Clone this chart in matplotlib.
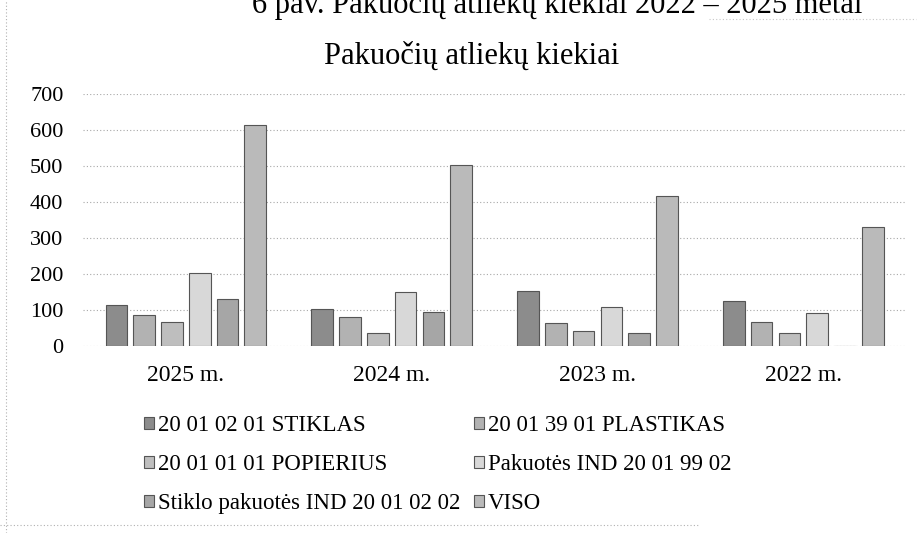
import numpy as np
import matplotlib.pyplot as plt
from matplotlib.lines import Line2D

plt.rcParams['font.family'] = ['Liberation Serif', 'DejaVu Serif']

# Data
years = ['2025 m.', '2024 m.', '2023 m.', '2022 m.']
series_names = ['20 01 02 01 STIKLAS', '20 01 39 01 PLASTIKAS', '20 01 01 01 POPIERIUS',
                'Pakuotės IND 20 01 99 02', 'Stiklo pakuotės IND 20 01 02 02', 'VISO']
stiklas = [114, 103, 152, 124]
plastikas = [86, 80, 64, 67]
popierius = [66, 35, 42, 36]
pakuotes_ind = [203, 151, 108, 92]
stiklo_pakuotes = [129, 94, 36, 0]
viso = [613, 503, 416, 330]
yticks = [0, 100, 200, 300, 400, 500, 600, 700]

series = [stiklas, plastikas, popierius, pakuotes_ind, stiklo_pakuotes, viso]
colors = ['#8c8c8c', '#b2b2b2', '#bebebe', '#d8d8d8', '#a6a6a6', '#bababa']

fig = plt.figure(figsize=(9.21, 5.33), dpi=100)
ax = fig.add_axes([0.090, 0.351, 0.894, 0.473])

x = np.arange(len(years))
step = 0.135
width = 0.105
handles = []
for j, (vals, col) in enumerate(zip(series, colors)):
    b = ax.bar(x + (j - 2.5) * step, vals, width, color=col,
               edgecolor='#555555', linewidth=0.8, zorder=3)
    handles.append(b)

ax.set_xlim(-0.5, len(years) - 0.5)
ax.set_ylim(0, 700)
ax.set_yticks(yticks)
ax.set_xticks(x)
ax.set_xticklabels(years, fontsize=17)
ax.tick_params(axis='y', labelsize=16, length=0, pad=14)
ax.tick_params(axis='x', length=0, pad=14)
ax.grid(axis='y', color='#a8a8a8', linewidth=0.8, linestyle=(0, (1, 2)), zorder=0)
for s in ax.spines.values():
    s.set_visible(False)

# Titles (upper caption is cut off by the scan edge, as in the original)
fig.text(0.605, 0.976, '6 pav. Pakuočių atliekų kiekiai 2022 – 2025 metai',
         ha='center', va='baseline', fontsize=22)
fig.text(0.512, 0.895, 'Pakuočių atliekų kiekiai', ha='center', va='center', fontsize=22)

# Legend, filled row-wise like the original
order = [0, 2, 4, 1, 3, 5]
fig.legend([handles[i] for i in order], [series_names[i] for i in order],
           ncol=2, loc='center', bbox_to_anchor=(0.475, 0.128), frameon=False,
           fontsize=16.5, handlelength=0.45, handleheight=0.45, handletextpad=0.15,
           columnspacing=0.6, labelspacing=0.78)

# Faint border of the scanned chart frame
fig.add_artist(Line2D([0.006, 0.006], [0.0, 1.0], color='#b0b0b0', lw=0.8,
                      linestyle=(0, (1, 2))))
fig.add_artist(Line2D([0.0, 0.76], [0.015, 0.015], color='#b0b0b0', lw=0.8,
                      linestyle=(0, (1, 2))))
fig.add_artist(Line2D([0.77, 0.995], [0.965, 0.965], color='#c8c8c8', lw=0.8,
                      linestyle=(0, (1, 2))))

fig.savefig('out.png', dpi=100)
